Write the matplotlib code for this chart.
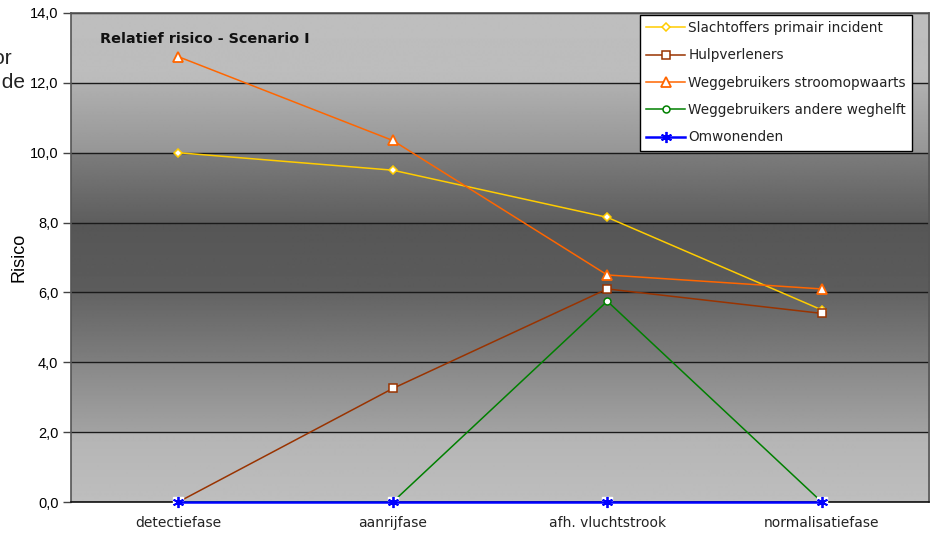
import matplotlib.pyplot as plt
import numpy as np

fasen = ['detectiefase', 'aanrijfase', 'afh. vluchtstrook', 'normalisatiefase']

slachtoffers = [10.0, 9.5, 8.15, 5.5]
hulpverleners = [0.0, 3.25, 6.1, 5.4]
stroomopwaarts = [12.75, 10.35, 6.5, 6.1]
andere_weghelft = [0.0, 0.0, 5.75, 0.0]
omwonenden = [0.0, 0.0, 0.0, 0.0]

y_ticks = [0, 2, 4, 6, 8, 10, 12, 14]

W, H = 930, 536
fig = plt.figure(figsize=(W / 100, H / 100), dpi=100)
ax = fig.add_axes([71 / W, (H - 502) / H, (929 - 71) / W, (502 - 13) / H])

# grey "centre" gradient behind the plot area (pixel row -> grey level),
# stepped a little at each gridline like the banding of the original fill
rows = np.linspace(13, 502, 490)
stops_y = [13, 82, 84, 152, 154, 222, 224, 292, 294, 361, 363, 431, 433, 502]
stops_g = [190, 188, 176, 150, 124, 94, 86, 92, 100, 126, 136, 162, 180, 190]
grey = np.interp(rows, stops_y, stops_g) / 255.0
grad = np.repeat(grey[:, None], 2, axis=1)
ax.imshow(grad, cmap='gray', vmin=0, vmax=1, aspect='auto',
          extent=[0, 1, 0, 1], transform=ax.transAxes, zorder=0,
          interpolation='bilinear')

x = np.arange(len(fasen)) + 0.5

ax.plot(x, slachtoffers, color='#FFCC00', lw=1.1, marker='D', ms=4.5,
        mfc='white', mec='#FFCC00', mew=1.1, label='Slachtoffers primair incident', zorder=4)
ax.plot(x, hulpverleners, color='#993300', lw=1.1, marker='s', ms=5.5,
        mfc='white', mec='#993300', mew=1.1, label='Hulpverleners', zorder=4)
ax.plot(x, stroomopwaarts, color='#FF6600', lw=1.1, marker='^', ms=6.5,
        mfc='white', mec='#FF6600', mew=1.3, label='Weggebruikers stroomopwaarts', zorder=4)
ax.plot(x, andere_weghelft, color='#008000', lw=1.1, marker='o', ms=5,
        mfc='white', mec='#008000', mew=1.1, label='Weggebruikers andere weghelft', zorder=4)
ax.plot(x, omwonenden, ls='none', marker='s', ms=7, mfc='white', mec='white',
        zorder=5, clip_on=False)
ax.plot(x, omwonenden, color='#0000FF', lw=1.8, marker=(6, 2, 0), ms=8,
        mec='#0000FF', mew=1.3, label='Omwonenden', zorder=6, clip_on=False)

ax.set_xlim(0, 4)
ax.set_ylim(0, 14)
ax.set_yticks(y_ticks)
ax.set_yticklabels([f'{v:.1f}'.replace('.', ',') for v in y_ticks],
                   family='Liberation Sans', fontsize=10.5)
ax.set_xticks(x)
ax.set_xticklabels(fasen, family='DejaVu Sans', fontsize=10, color='#222222')
ax.tick_params(axis='x', length=0, pad=10)
ax.tick_params(axis='y', length=6, width=1, color='#444444', pad=3)
ax.yaxis.grid(True, color='#1a1a1a', lw=1, zorder=1)
ax.set_axisbelow(True)

for side in ['left', 'right', 'top']:
    ax.spines[side].set_color('#555555')
    ax.spines[side].set_linewidth(1.2)
ax.spines['bottom'].set_color('#111111')
ax.spines['bottom'].set_linewidth(1.2)

ax.set_ylabel('Risico', family='Liberation Sans', fontsize=13, labelpad=2)

ax.text(0.034, 0.962, 'Relatief risico - Scenario I', transform=ax.transAxes,
        fontsize=10.4, fontweight='bold', family='DejaVu Sans', va='top', ha='left',
        color='#111111')

leg = ax.legend(loc='upper right', bbox_to_anchor=(912 / W, 1 - 15 / H),
                bbox_transform=fig.transFigure, frameon=True, fancybox=False,
                edgecolor='black', framealpha=1,
                prop={'family': 'DejaVu Sans', 'size': 9.8},
                handlelength=2.9, handletextpad=0.2, labelspacing=0.98,
                borderpad=0.45, borderaxespad=0)
leg.get_frame().set_linewidth(1.0)
leg.set_zorder(10)
for t in leg.get_texts():
    t.set_color('#222222')

# text from the surrounding page, cut off at the left edge
fig.text(13 / W, 1 - 58 / H, 'voor', fontsize=15, family='Liberation Sans',
         ha='right', va='center', color='#222222')
fig.text(25 / W, 1 - 82 / H, 'aan de', fontsize=15, family='Liberation Sans',
         ha='right', va='center', color='#222222')

fig.savefig('out.png', dpi=100)
